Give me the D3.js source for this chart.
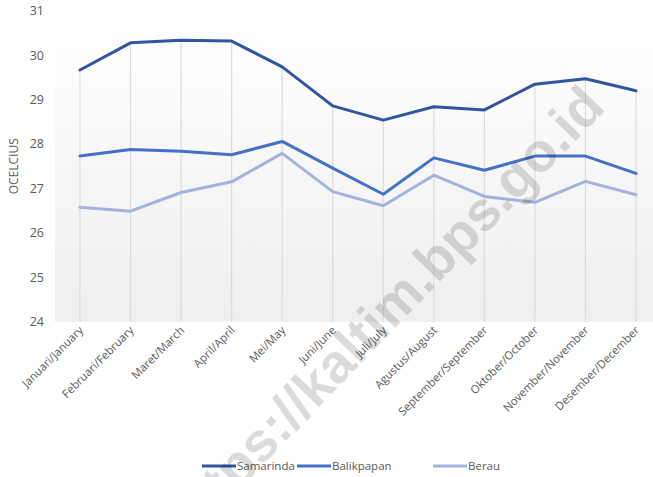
<!DOCTYPE html>
<html>
<head>
<meta charset="utf-8">
<script src="https://cdn.jsdelivr.net/npm/d3@7"></script>
<style>
  body { margin: 0; background: #fff; }
  svg { display: block; font-family: "Open Sans", "Noto Sans", sans-serif; }
</style>
</head>
<body>
<svg id="chart" width="653" height="477"></svg>
<script>
// data
const months = ["Januari/January", "Februari/February", "Maret/March", "April/April", "Mei/May", "Juni/June",
  "Juli/July", "Agustus/August", "September/September", "Oktober/October", "November/November", "Desember/December"];
const samarinda = [29.67, 30.28, 30.34, 30.32, 29.74, 28.86, 28.54, 28.84, 28.77, 29.35, 29.47, 29.20];
const balikpapan = [27.73, 27.88, 27.84, 27.76, 28.06, 27.46, 26.87, 27.69, 27.41, 27.73, 27.73, 27.34];
const berau = [26.58, 26.49, 26.91, 27.15, 27.79, 26.93, 26.61, 27.30, 26.82, 26.69, 27.16, 26.86];
const seriesNames = ["Samarinda", "Balikpapan", "Berau"];
const yTicks = [24, 25, 26, 27, 28, 29, 30, 31];

const colors = ["#2f569f", "#4472c4", "#a3b3dd"];
const series = [samarinda, balikpapan, berau];

const svg = d3.select("#chart");
const W = 653, H = 477;

const x = d3.scaleBand().domain(months).range([54.7, 661.3]);
const y = d3.scaleLinear().domain([24, 31]).range([321.7, 10.9]);
const cx = (m) => x(m) + x.bandwidth() / 2;

// plot background gradient
const defs = svg.append("defs");
const grad = defs.append("linearGradient").attr("id", "bg").attr("x1", 0).attr("y1", 0).attr("x2", 0).attr("y2", 1);
grad.append("stop").attr("offset", "0%").attr("stop-color", "#ffffff");
grad.append("stop").attr("offset", "100%").attr("stop-color", "#efefef");

svg.append("rect")
  .attr("x", 55).attr("y", y(31))
  .attr("width", W - 55).attr("height", y(24) - y(31))
  .attr("fill", "url(#bg)");

// drop lines from the highest point down to the axis
svg.append("g")
  .selectAll("line")
  .data(months)
  .join("line")
  .attr("x1", (m) => cx(m)).attr("x2", (m) => cx(m))
  .attr("y1", (m, i) => y(d3.max(series, (s) => s[i])))
  .attr("y2", y(24))
  .attr("stroke", "#dcdcdc")
  .attr("stroke-width", 1.2);

// y axis labels
svg.append("g")
  .selectAll("text")
  .data(yTicks)
  .join("text")
  .attr("x", 44).attr("y", (d) => y(d))
  .attr("dy", "0.35em")
  .attr("text-anchor", "end")
  .attr("font-size", 12.5)
  .attr("fill", "#595959")
  .text((d) => d);

svg.append("text")
  .attr("transform", "translate(18," + y(27.5) + ") rotate(-90)")
  .attr("text-anchor", "middle")
  .attr("font-size", 12)
  .attr("fill", "#595959")
  .text("OCELCIUS");

// x axis labels
svg.append("g")
  .selectAll("text")
  .data(months)
  .join("text")
  .attr("transform", (m) => "translate(" + (cx(m) + 4) + ",331) rotate(-45)")
  .attr("text-anchor", "end")
  .attr("font-size", 11.3)
  .attr("fill", "#595959")
  .text((m) => m);

// lines
const line = d3.line()
  .x((d, i) => cx(months[i]))
  .y((d) => y(d));

svg.append("g")
  .selectAll("path")
  .data(series)
  .join("path")
  .attr("d", (s) => line(s))
  .attr("fill", "none")
  .attr("stroke", (s, i) => colors[i])
  .attr("stroke-width", 3)
  .attr("stroke-linejoin", "round")
  .attr("stroke-linecap", "round");

// legend
const legendX = [202, 297, 433];
const legend = svg.append("g")
  .selectAll("g")
  .data(seriesNames)
  .join("g")
  .attr("transform", (d, i) => "translate(" + legendX[i] + ",466)");
legend.append("line")
  .attr("x1", 0).attr("x2", 34)
  .attr("stroke", (d, i) => colors[i])
  .attr("stroke-width", 3);
legend.append("text")
  .attr("x", 35).attr("dy", "0.35em")
  .attr("font-size", 11.5)
  .attr("fill", "#595959")
  .text((d) => d);

// watermark
svg.append("text")
  .attr("transform", "translate(398,325) rotate(-46)")
  .attr("text-anchor", "middle")
  .attr("font-family", "Liberation Sans, Arial, sans-serif")
  .attr("font-weight", "bold")
  .attr("font-size", 55)
  .attr("fill", "#000")
  .attr("fill-opacity", 0.14)
  .text("https://kaltim.bps.go.id");
</script>
</body>
</html>
